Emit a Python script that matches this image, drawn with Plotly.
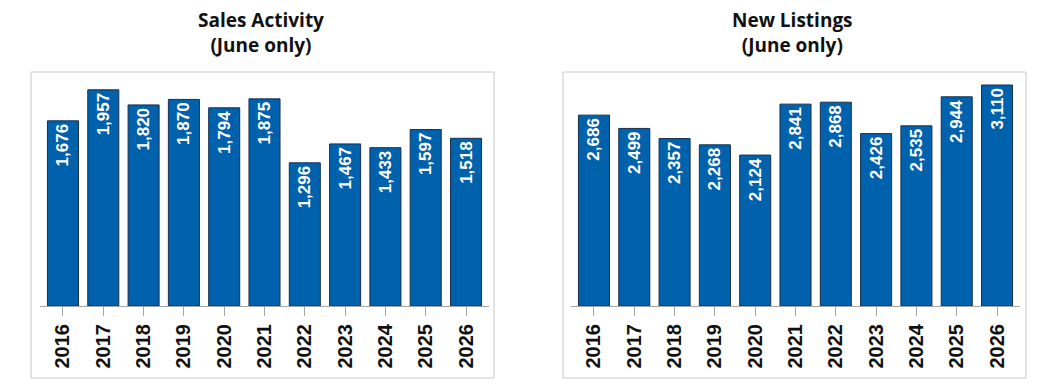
import plotly.graph_objects as go

years = ["2016", "2017", "2018", "2019", "2020", "2021", "2022", "2023", "2024", "2025", "2026"]
sales = [1676, 1957, 1820, 1870, 1794, 1875, 1296, 1467, 1433, 1597, 1518]
listings = [2686, 2499, 2357, 2268, 2124, 2841, 2868, 2426, 2535, 2944, 3110]
titles = ["Sales Activity<br>(June only)", "New Listings<br>(June only)"]

W, H = 1050, 390
BAR = "#0061ad"
EDGE = "#17304d"

fig = go.Figure()

def px_x(p):
    return p / W

def px_y(p):
    return 1 - p / H

panels = [
    dict(vals=sales, xa="x", ya="y", dom=(40, 489), box=(31, 494), yr=2100, title=titles[0]),
    dict(vals=listings, xa="x2", ya="y2", dom=(571, 1020), box=(563, 1026), yr=3265, title=titles[1]),
]

for i, p in enumerate(panels):
    fig.add_trace(go.Bar(
        x=years, y=p["vals"], xaxis=p["xa"], yaxis=p["ya"],
        marker=dict(color=BAR, line=dict(color=EDGE, width=1)),
        text=[f"{v:,}" for v in p["vals"]],
        textposition="inside", insidetextanchor="end", textangle=-90,
        constraintext="none",
        textfont=dict(family="Liberation Sans", size=17, color="white", weight="bold"),
        hoverinfo="skip", showlegend=False,
    ))
    sfx = "" if i == 0 else "2"
    fig.layout["xaxis" + sfx] = dict(
        domain=[px_x(p["dom"][0]), px_x(p["dom"][1])],
        anchor="y" + sfx, type="category", range=[-0.57, 10.57],
        showline=True, linecolor="#a6a6a6", linewidth=1,
        ticks="outside", ticklen=9, tickcolor="#a6a6a6", tickwidth=1,
        tickangle=-90, showgrid=False, zeroline=False,
        tickfont=dict(family="Liberation Sans", size=20, color="#111", weight="bold"),
        fixedrange=True,
    )
    fig.layout["yaxis" + sfx] = dict(
        domain=[px_y(306), px_y(74)], anchor="x" + sfx,
        range=[0, p["yr"]], visible=False, showgrid=False, fixedrange=True,
    )
    fig.add_shape(type="rect", xref="paper", yref="paper",
                  x0=px_x(p["box"][0]), x1=px_x(p["box"][1]),
                  y0=px_y(378), y1=px_y(72),
                  line=dict(color="#c8c8c8", width=1), fillcolor="rgba(0,0,0,0)", layer="below")
    fig.add_annotation(xref="paper", yref="paper",
                       x=px_x((p["box"][0] + p["box"][1]) / 2 - 2), y=px_y(5),
                       xanchor="center", yanchor="top", showarrow=False,
                       text=p["title"], align="center",
                       font=dict(family="Open Sans", size=19, color="#111", weight="bold"))

fig.update_layout(
    width=W, height=H, margin=dict(l=0, r=0, t=0, b=0),
    paper_bgcolor="white", plot_bgcolor="white",
    bargap=0.23,
)

fig.write_html("out.html")
